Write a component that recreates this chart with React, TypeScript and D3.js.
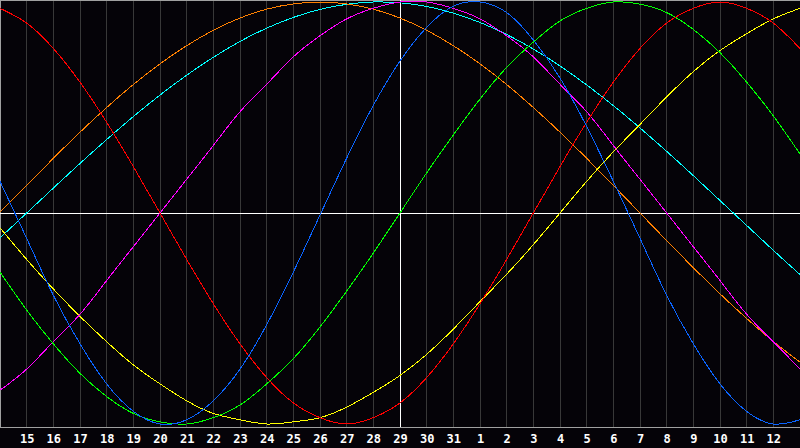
import * as d3 from "d3";

// day offsets from the centre day (29) and their labels
const days = d3.range(-15, 16);
const dayLabels = [
  "15", "16", "17", "18", "19", "20", "21", "22", "23", "24", "25", "26", "27", "28",
  "29", "30", "31", "1", "2", "3", "4", "5", "6", "7", "8", "9", "10", "11", "12",
];

// curve values per day, -1 .. 1
const physical = [0.15, -0.12, -0.39, -0.62, -0.81, -0.94, -1.0, -0.98, -0.89, -0.74, -0.53, -0.28, -0.01, 0.26, 0.51, 0.72, 0.88, 0.98, 1.0, 0.95, 0.82, 0.64, 0.41, 0.15, -0.12, -0.39, -0.62, -0.81, -0.94, -1.0, -0.98];
const emotional = [0.97, 0.9, 0.78, 0.62, 0.43, 0.22, 0, -0.22, -0.43, -0.62, -0.78, -0.9, -0.97, -1, -0.97, -0.9, -0.78, -0.62, -0.43, -0.22, 0, 0.22, 0.43, 0.62, 0.78, 0.9, 0.97, 1, 0.97, 0.9, 0.78];
const intellectual = [-0.28, -0.46, -0.62, -0.76, -0.87, -0.95, -0.99, -1.0, -0.97, -0.91, -0.81, -0.69, -0.54, -0.37, -0.19, 0, 0.19, 0.37, 0.54, 0.69, 0.81, 0.91, 0.97, 1.0, 0.99, 0.95, 0.87, 0.76, 0.62, 0.46, 0.28];
const intuitive = [-0.84, -0.74, -0.61, -0.48, -0.32, -0.16, 0, 0.16, 0.32, 0.48, 0.61, 0.74, 0.84, 0.92, 0.97, 1.0, 1.0, 0.97, 0.92, 0.84, 0.74, 0.61, 0.48, 0.32, 0.16, 0, -0.16, -0.32, -0.48, -0.61, -0.74];
const aesthetic = [-0.07, -0.22, -0.36, -0.49, -0.61, -0.72, -0.81, -0.89, -0.95, -0.98, -1.0, -0.99, -0.97, -0.92, -0.85, -0.77, -0.67, -0.55, -0.42, -0.29, -0.15, 0, 0.15, 0.29, 0.42, 0.55, 0.67, 0.77, 0.85, 0.92, 0.97];
const awareness = [0.006, 0.131, 0.259, 0.383, 0.5, 0.609, 0.707, 0.793, 0.866, 0.924, 0.966, 0.991, 1.0, 0.991, 0.966, 0.924, 0.866, 0.793, 0.707, 0.609, 0.5, 0.383, 0.259, 0.131, 0, -0.131, -0.259, -0.383, -0.5, -0.609, -0.707];
const spiritual = [-0.118, 0, 0.118, 0.235, 0.348, 0.457, 0.559, 0.653, 0.738, 0.813, 0.876, 0.927, 0.965, 0.989, 1.0, 0.996, 0.979, 0.947, 0.903, 0.846, 0.777, 0.697, 0.607, 0.509, 0.403, 0.292, 0.177, 0.059, -0.059, -0.177, -0.292];

const series = [
  { name: "spiritual", values: spiritual, color: "#00ffff" },
  { name: "awareness", values: awareness, color: "#ff8000" },
  { name: "aesthetic", values: aesthetic, color: "#ffff00" },
  { name: "intuitive", values: intuitive, color: "#ff00ff" },
  { name: "intellectual", values: intellectual, color: "#00ff00" },
  { name: "emotional", values: emotional, color: "#ff0000" },
  { name: "physical", values: physical, color: "#0a64ff" },
];

const width = 800;
const height = 448;
const plotBottom = 427;

export default function App() {
  const x = d3.scaleLinear().domain([-15, 15]).range([0, width]);
  const y = d3.scaleLinear().domain([-1, 1]).range([424, 2]);
  const px = (v: number) => Math.floor(v) + 0.5;

  const line = d3
    .line<number>()
    .x((_, i) => x(days[i]))
    .y((d) => y(d))
    .curve(d3.curveNatural);

  const gridDays = days.slice(1, -1);

  return (
    <svg
      width={width}
      height={height}
      style={{ position: "fixed", left: 0, top: 0, display: "block", background: "#050308" }}
    >
      <rect x={0} y={0} width={width} height={height} fill="#050308" />
      {/* day grid */}
      {gridDays.map((d) => (
        <line
          key={d}
          x1={px(x(d))}
          x2={px(x(d))}
          y1={0}
          y2={plotBottom}
          stroke="#383838"
          shapeRendering="crispEdges"
        />
      ))}
      {/* frame */}
      <line x1={0} x2={width} y1={0.5} y2={0.5} stroke="#a0a0a0" shapeRendering="crispEdges" />
      <line x1={0.5} x2={0.5} y1={0} y2={plotBottom} stroke="#a0a0a0" shapeRendering="crispEdges" />
      <line x1={0} x2={width} y1={plotBottom + 0.5} y2={plotBottom + 0.5} stroke="#a0a0a0" shapeRendering="crispEdges" />
      {/* centre lines */}
      <line x1={0} x2={width} y1={px(y(0))} y2={px(y(0))} stroke="#ffffff" shapeRendering="crispEdges" />
      <line x1={px(x(0))} x2={px(x(0))} y1={0} y2={plotBottom} stroke="#ffffff" shapeRendering="crispEdges" />
      {/* curves */}
      {series.map((s) => (
        <path
          key={s.name}
          d={line(s.values) ?? ""}
          fill="none"
          stroke={s.color}
          strokeWidth={1}
          shapeRendering="crispEdges"
        />
      ))}
      {/* day labels */}
      {gridDays.map((d, i) => (
        <text
          key={d}
          x={x(d) + 0.5}
          y={443}
          textAnchor="middle"
          fill="#ffffff"
          fontFamily="'DejaVu Sans Mono', monospace"
          fontWeight="bold"
          fontSize={12}
        >
          {dayLabels[i]}
        </text>
      ))}
    </svg>
  );
}
